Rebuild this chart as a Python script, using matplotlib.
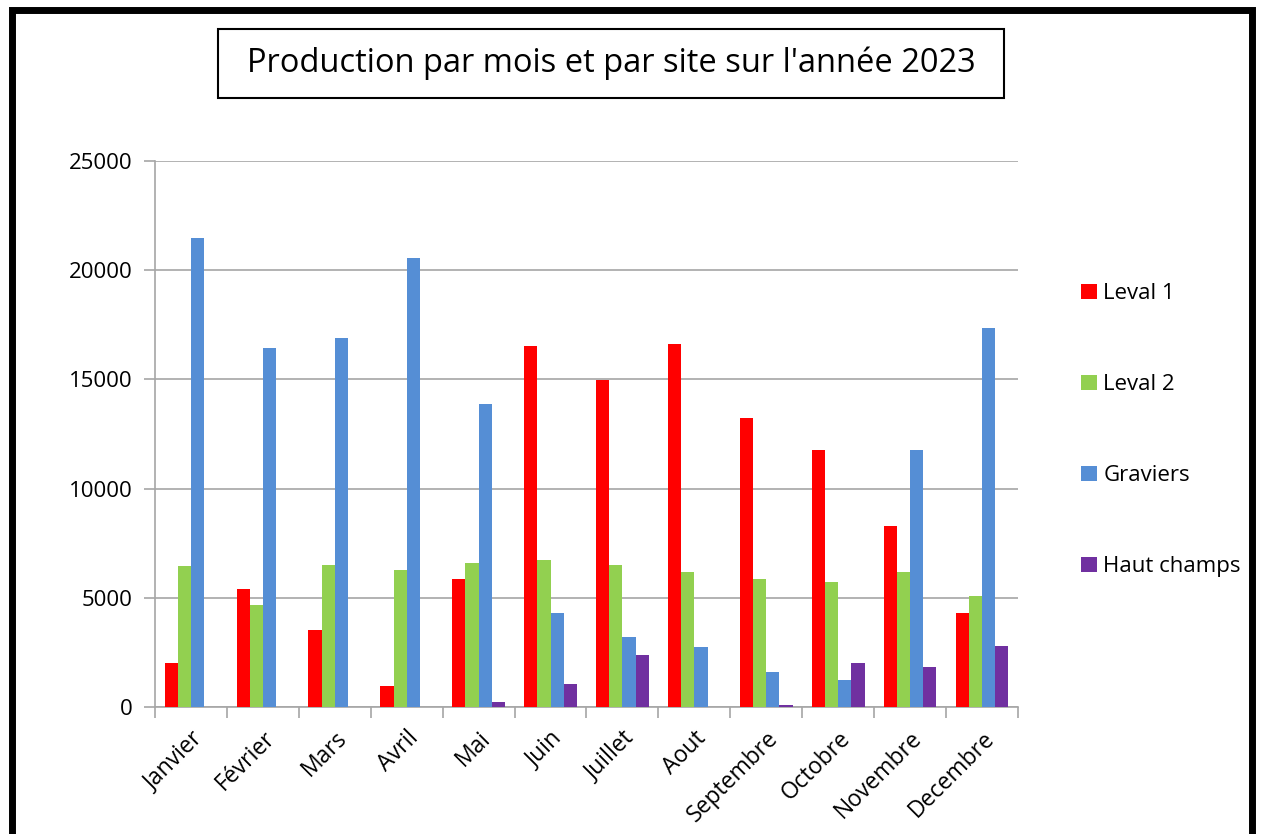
import numpy as np
import matplotlib.pyplot as plt
from matplotlib.patches import Rectangle

months = ["Janvier", "Février", "Mars", "Avril", "Mai", "Juin", "Juillet",
          "Aout", "Septembre", "Octobre", "Novembre", "Decembre"]
sites = ["Leval 1", "Leval 2", "Graviers", "Haut champs"]

leval1 = [2030, 5420, 3540, 980, 5850, 16540, 14970, 16610, 13250, 11780, 8300, 4320]
leval2 = [6440, 4660, 6490, 6250, 6610, 6730, 6490, 6200, 5850, 5730, 6200, 5070]
graviers = [21480, 16420, 16900, 20540, 13850, 4320, 3190, 2730, 1610, 1250, 11780, 17360]
haut_champs = [0, 0, 0, 0, 250, 1030, 2390, 0, 80, 2030, 1850, 2780]

colors = ["#FF0000", "#92D050", "#558ED5", "#7030A0"]
grid_col = "#A6A6A6"

plt.rcParams['font.family'] = ['Open Sans', 'DejaVu Sans']

W, H = 1263, 834
fig = plt.figure(figsize=(W / 100, H / 100), dpi=100)
ax = fig.add_axes([0.1227, 0.1523, 0.6833, 0.6547])

x = np.arange(len(months))
w = 0.183
series = [leval1, leval2, graviers, haut_champs]
for i, (vals, col, name) in enumerate(zip(series, colors, sites)):
    ax.bar(x + (i - 1.5) * w, vals, width=w, color=col, label=name, zorder=3)

ax.set_xlim(-0.5, len(months) - 0.5)
ax.set_ylim(0, 25000)
ax.set_yticks(np.arange(0, 25001, 5000))
ax.yaxis.grid(True, color=grid_col, linewidth=1.2, zorder=0)

ax.set_xticks(x)
ax.set_xticklabels(months, rotation=45, ha='right', rotation_mode='anchor', fontsize=16.5)
ax.set_xticks(np.arange(-0.5, len(months)), minor=True)
ax.tick_params(axis='x', which='major', length=0, pad=14)
ax.tick_params(axis='x', which='minor', length=8, color=grid_col, width=1.2)
ax.tick_params(axis='y', length=8, color=grid_col, width=1.2, labelsize=16, pad=8)

for s in ['top', 'right']:
    ax.spines[s].set_visible(False)
for s in ['left', 'bottom']:
    ax.spines[s].set_color(grid_col)
    ax.spines[s].set_linewidth(1.2)

ax.legend(loc='center left', bbox_to_anchor=(1.05, 0.507), frameon=False,
          fontsize=16, labelspacing=3.15, handlelength=0.7, handleheight=0.7,
          handletextpad=0.3)

# title in a box
fig.patches.append(Rectangle((218 / W, 1 - 98 / H), 786 / W, 69 / H,
                             transform=fig.transFigure, facecolor='white',
                             edgecolor='black', linewidth=1.5))
fig.text(611 / W, 1 - 63 / H, "Production par mois et par site sur l'année 2023",
         ha='center', va='center', fontsize=23.5)

# thick outer border
fig.patches.append(Rectangle((0.0095, -0.1), 0.9815, 1.088, transform=fig.transFigure,
                             fill=False, edgecolor='black', linewidth=5))

fig.savefig("out.png", dpi=100)
